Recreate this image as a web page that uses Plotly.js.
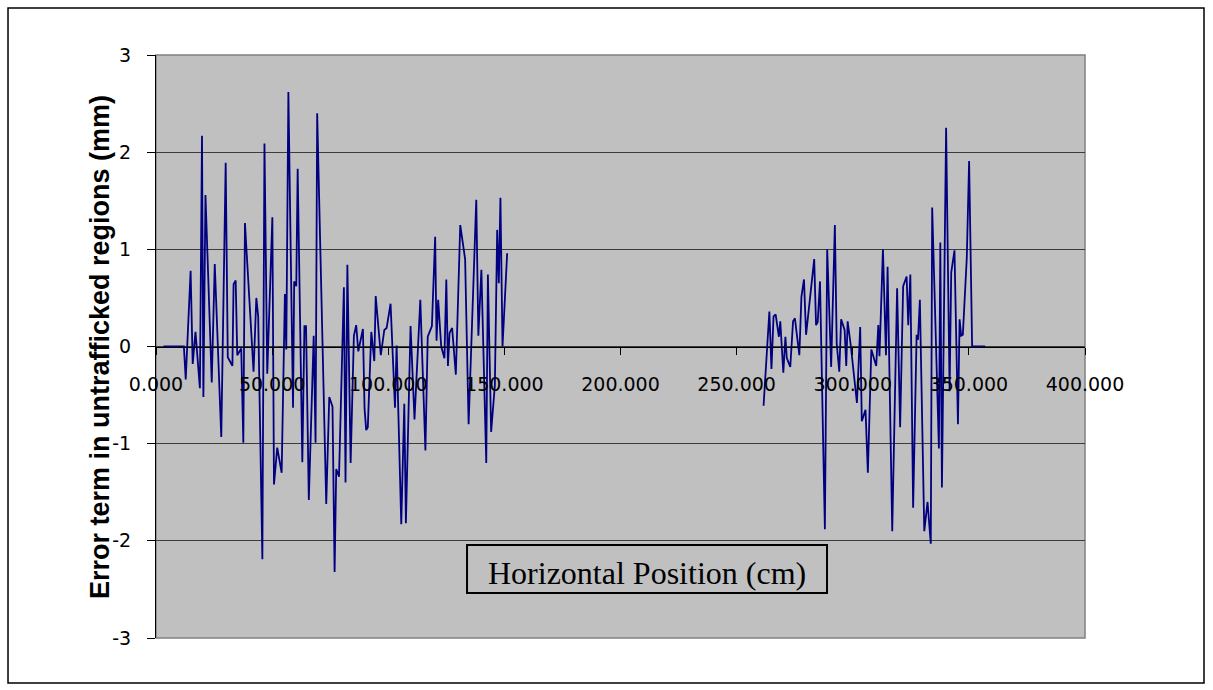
<!DOCTYPE html>
<html>
<head>
<meta charset="utf-8">
<script src="https://cdn.plot.ly/plotly-3.0.1.min.js"></script>
<style>
  html, body { margin: 0; padding: 0; background: #ffffff; }
  #chart { width: 1213px; height: 690px; }
</style>
</head>
<body>
<div id="chart"></div>
<script>
// Horizontal position (cm) and error term (mm), first measured strip
const posStripA = [
  3.2, 12.0, 12.8, 14.9, 15.8, 17.0, 18.9, 19.8, 20.4, 21.3,
  24.0, 25.3, 28.1, 30.0, 30.9, 32.9, 33.4, 34.3, 35.0, 36.7,
  37.6, 38.3, 42.0, 43.2, 44.0, 45.8, 46.7, 47.9, 50.1, 50.8,
  52.2, 54.1, 55.5, 56.1, 57.0, 59.0, 59.5, 60.4, 61.0, 63.0,
  63.9, 64.6, 65.8, 67.9, 68.7, 69.4, 73.3, 74.6, 76.0, 76.9,
  77.6, 78.8, 80.9, 81.6, 82.4, 83.8, 85.2, 86.2, 87.1, 89.1,
  89.8, 90.5, 91.2, 92.7, 94.0, 94.6, 96.8, 98.3, 99.3, 101.0,
  102.9, 103.6, 105.6, 106.9, 107.6, 109.6, 111.3, 113.8, 116.0, 117.0,
  118.8, 120.2, 120.8, 121.5, 122.8, 124.2, 125.0, 125.7, 126.4, 127.5,
  129.1, 131.0, 133.1, 134.6, 137.9, 138.8, 140.1, 142.2, 142.9, 144.3,
  145.9, 146.9, 147.6, 148.3, 149.2, 151.2
];
const errStripA = [
  0, 0, -0.34, 0.78, -0.18, 0.15, -0.43, 2.17, -0.52, 1.56,
  -0.37, 0.85, -0.93, 1.89, -0.11, -0.20, 0.64, 0.68, -0.09, -0.02,
  -0.99, 1.27, -0.26, 0.50, 0.31, -2.19, 2.09, -0.28, 1.33, -1.42,
  -1.04, -1.30, 0.54, -0.03, 2.62, -0.63, 0.67, 0.62, 1.83, -1.19,
  0.21, 0.21, -1.58, 0.11, -0.99, 2.40, -1.62, -0.52, -0.62, -2.32,
  -1.26, -1.34, 0.61, -1.40, 0.84, -1.20, 0.11, 0.22, -0.05, 0.18,
  -0.64, -0.86, -0.83, 0.15, -0.15, 0.52, -0.09, 0.17, 0.19, 0.44,
  -0.63, 0.01, -1.83, -0.59, -1.82, 0.21, -0.75, 0.48, -1.07, 0.10,
  0.21, 1.13, 0.06, 0.48, 0.00, -0.12, 0.69, -0.20, 0.14, 0.19,
  -0.29, 1.25, 0.90, -0.80, 1.51, 0.11, 0.79, -1.20, 0.74, -0.88,
  -0.40, 1.20, 0.65, 1.53, 0.00, 0.96
];

// Second measured strip
const posStripB = [
  261.6, 264.1, 265.0, 265.9, 266.8, 268.2, 268.8, 270.1, 271.0, 271.6,
  273.1, 274.3, 275.1, 277.0, 277.9, 279.0, 279.9, 283.4, 284.2, 284.9,
  285.9, 288.0, 289.0, 290.7, 292.3, 293.1, 294.2, 295.0, 296.5, 297.2,
  297.8, 299.2, 301.8, 303.2, 303.9, 305.5, 306.5, 308.0, 310.1, 311.0,
  311.5, 313.0, 314.3, 315.0, 317.0, 319.1, 320.4, 321.7, 323.2, 323.9,
  324.8, 326.0, 327.5, 328.1, 328.9, 330.8, 332.2, 333.6, 334.2, 337.1,
  337.7, 338.4, 340.2, 341.7, 342.4, 343.8, 345.3, 346.0, 346.7, 347.4,
  349.1, 350.1, 351.4, 357.0
];
const errStripB = [
  -0.61, 0.36, -0.23, 0.31, 0.33, 0.10, 0.26, -0.27, 0.10, -0.12,
  -0.21, 0.26, 0.29, -0.09, 0.51, 0.69, 0.12, 0.90, 0.22, 0.25,
  0.67, -1.88, 1.00, -0.21, 1.25, 0.03, -0.26, 0.28, 0.17, -0.20,
  0.26, 0.00, -0.58, 0.20, -0.77, -0.65, -1.30, -0.03, -0.20, 0.22,
  -0.10, 1.00, -0.09, 0.82, -1.90, 0.60, -0.83, 0.62, 0.72, 0.22,
  0.74, -1.66, 0.12, 0.07, 0.48, -1.90, -1.60, -2.03, 1.43, -1.05,
  1.07, -1.45, 2.25, -0.46, 0.76, 0.99, -0.80, 0.28, 0.11, 0.12,
  0.91, 1.91, 0.00, 0.00
];

const xTickVals = [0, 50, 100, 150, 200, 250, 300, 350, 400];
const yTickVals = [-3, -2, -1, 0, 1, 2, 3];
const yTickText = ['-3', '-2', '-1', '0', '1', '2', '3'];

const xTitleText = 'Horizontal Position (cm)';
const yTitleText = 'Error term in untrafficked regions (mm)';

const lineStyle = { color: '#000080', width: 1.8 };

const traces = [
  { x: posStripA, y: errStripA, type: 'scatter', mode: 'lines', line: lineStyle, hoverinfo: 'skip' },
  { x: posStripB, y: errStripB, type: 'scatter', mode: 'lines', line: lineStyle, hoverinfo: 'skip' }
];

const tickFont = { family: 'DejaVu Sans, Arial, sans-serif', size: 19, color: '#000000' };

const layout = {
  width: 1213,
  height: 690,
  showlegend: false,
  paper_bgcolor: '#ffffff',
  plot_bgcolor: '#C0C0C0',
  margin: { l: 156, r: 128, t: 55, b: 52, pad: 0 },
  xaxis: {
    range: [0, 400],
    tickvals: xTickVals,
    tickformat: '.3f',
    anchor: 'free',
    position: 0.5,
    showline: true,
    linecolor: '#000000',
    linewidth: 1,
    ticks: 'outside',
    ticklen: 7,
    tickcolor: '#000000',
    tickwidth: 1,
    ticklabelstandoff: 14,
    showgrid: false,
    zeroline: false,
    tickfont: tickFont
  },
  yaxis: {
    range: [-3, 3],
    tickvals: yTickVals,
    ticktext: yTickText,
    showline: true,
    linecolor: '#000000',
    linewidth: 1,
    ticks: 'outside',
    ticklen: 8,
    tickcolor: '#000000',
    ticklabelstandoff: 12,
    showgrid: true,
    gridcolor: '#3c3c3c',
    gridwidth: 1.2,
    zeroline: false,
    tickfont: tickFont
  },
  shapes: [
    // plot area frame
    { type: 'rect', xref: 'paper', yref: 'paper', x0: 0, x1: 1, y0: 0, y1: 1,
      line: { color: '#808080', width: 1.5 }, fillcolor: 'rgba(0,0,0,0)', layer: 'below' },
    // outer chart frame
    { type: 'rect', xref: 'paper', yref: 'paper', x0: -0.1593, x1: 1.1281, y0: -0.0772, y1: 1.0806,
      line: { color: '#000000', width: 1.5 }, fillcolor: 'rgba(0,0,0,0)' },
    // boxed axis caption
    { type: 'rect', xref: 'paper', yref: 'paper', x0: 0.3348, x1: 0.7223, y0: 0.0772, y1: 0.1595,
      line: { color: '#000000', width: 2 }, fillcolor: '#C0C0C0' }
  ],
  annotations: [
    { xref: 'paper', yref: 'paper', x: 0.5285, y: 0.112, xanchor: 'center', yanchor: 'middle',
      text: xTitleText, showarrow: false,
      font: { family: 'Liberation Serif, Times New Roman, serif', size: 32, color: '#000000' } },
    { xref: 'paper', yref: 'paper', x: -0.0603, y: 0.499, xanchor: 'center', yanchor: 'middle',
      text: yTitleText, textangle: -90, showarrow: false,
      font: { family: 'Liberation Sans, Arial, sans-serif', size: 27, weight: 'bold', color: '#000000' } }
  ]
};

Plotly.newPlot('chart', traces, layout, { staticPlot: true, displayModeBar: false });
</script>
</body>
</html>
